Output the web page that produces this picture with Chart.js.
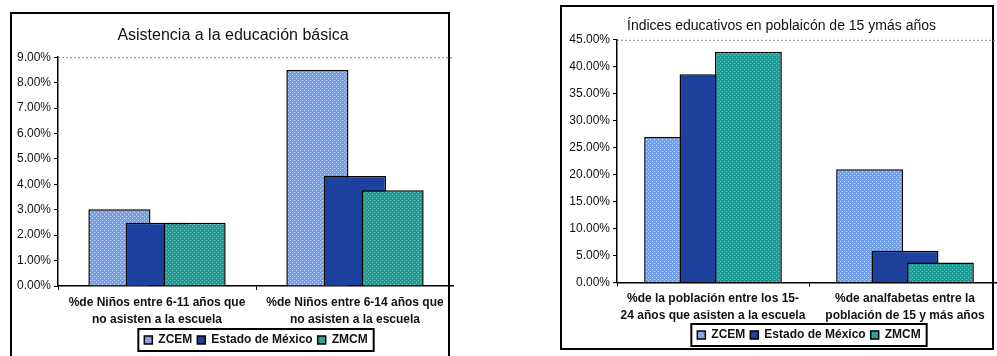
<!DOCTYPE html>
<html>
<head>
<meta charset="utf-8">
<script src="https://cdn.jsdelivr.net/npm/chart.js@4"></script>
<style>
html,body{margin:0;padding:0;background:#fff;overflow:hidden;width:997px;height:356px;}
.marco{position:absolute;box-sizing:border-box;border:2px solid #000;}
canvas{position:absolute;}
</style>
</head>
<body>
<div class="marco" style="left:10px;top:12px;width:440px;height:400px;"></div>
<div class="marco" style="left:560px;top:5px;width:434px;height:345px;"></div>
<canvas id="graficoBasica" style="left:12px;top:14px;width:442px;height:342px;" width="442" height="342"></canvas>
<canvas id="graficoIndices" style="left:562px;top:7px;width:439px;height:344px;" width="439" height="344"></canvas>
<script>

// series
const series = ["ZCEM", "Estado de México", "ZMCM"];

// Asistencia a la educación básica
const categoriasBasica = [
["%de Niños entre 6-11 años que", "no asisten a la escuela"],
["%de Niños entre 6-14 años que", "no asisten a la escuela"]
];
const zcemBasica = [3.02, 8.5];
const edomexBasica = [2.49, 4.33];
const zmcmBasica = [2.49, 3.77];

// Índices educativos en población de 15 y más años
const categoriasIndices = [
["%de la población entre los 15-", "24 años que asisten a la escuela"],
["%de analfabetas entre la", "población de 15 y más años"]
];
const zcemIndices = [27.0, 21.0];
const edomexIndices = [38.6, 5.9];
const zmcmIndices = [42.8, 3.7];


function punteado(base, punto){
const c = document.createElement("canvas");
c.width = 4; c.height = 4;
const x = c.getContext("2d");
x.fillStyle = base;
x.fillRect(0,0,4,4);
x.fillStyle = punto;
x.fillRect(0,0,1,1);
x.fillRect(2,2,1,1);
return x.createPattern(c, "repeat");
}

const rellenos = [
punteado("#74a0ea", "#c9dcfa"),
punteado("#1c3f9c", "#264cae"),
punteado("#1f9c96", "#70c8c0")
];

const fuente = "'Liberation Sans', Arial, sans-serif";

// como en Excel: la ultima serie se pinta encima
const ordenExcel = {
id: "ordenExcel",
beforeDatasetsDraw(chart){
chart.getSortedVisibleDatasetMetas().forEach(m => chart._drawDataset(m));
return false;
}
};

// linea punteada arriba del area y caja de la leyenda
const marcoExcel = {
id: "marcoExcel",
afterDraw(chart){
const ctx = chart.ctx;
const a = chart.chartArea;
ctx.save();
ctx.strokeStyle = "#888";
ctx.lineWidth = 1;
ctx.setLineDash([2,2]);
ctx.beginPath();
ctx.moveTo(a.left, a.top + 0.5);
ctx.lineTo(a.right, a.top + 0.5);
ctx.stroke();
ctx.setLineDash([]);
const hb = chart.legend.legendHitBoxes;
if(hb && hb.length){
let l = Infinity, r = -Infinity, t = Infinity, b = -Infinity;
hb.forEach(h => {
l = Math.min(l, h.left); r = Math.max(r, h.left + h.width);
t = Math.min(t, h.top); b = Math.max(b, h.top + h.height);
});
ctx.strokeStyle = "#000";
ctx.lineWidth = 2;
ctx.strokeRect(l - 6, t - 5, r - l + 12, b - t + 10);
}
ctx.restore();
}
};


function grafico(id, titulo, tituloFont, tituloPad, categorias, valores, maximo, paso, anchoEje, altoEje, catPct, barPct, padTicks){

new Chart(
document.getElementById(id),
{
type: "bar",
data: {
labels: categorias,
datasets: series.map((s, i) => ({
label: s,
data: valores[i],
backgroundColor: rellenos[i],
borderColor: "#000",
borderWidth: 1.5,
categoryPercentage: catPct,
barPercentage: barPct
}))
},
options: {
responsive: false,
animation: false,
layout: { padding: 0 },
plugins: {
title: {
display: true,
text: titulo,
color: "#111",
font: { family: fuente, size: tituloFont, weight: "normal" },
padding: tituloPad
},
legend: {
position: "bottom",
fullSize: false,
labels: {
boxWidth: 8,
boxHeight: 8,
padding: 5,
color: "#111",
font: { family: fuente, size: 12, weight: "bold" }
}
},
tooltip: { enabled: false }
},
scales: {
x: {
afterFit(scale){ scale.height = altoEje; },
grid: { display: true, drawOnChartArea: false, drawTicks: true, tickLength: 4, color: "#000", offset: true },
border: { display: true, color: "#000", width: 1.5 },
ticks: {
padding: padTicks,
maxRotation: 0,
autoSkip: false,
color: "#111",
font: { family: fuente, size: 12, weight: "bold", lineHeight: 1.42 }
}
},
y: {
min: 0,
max: maximo,
afterFit(scale){ scale.width = anchoEje; },
grid: { display: true, drawOnChartArea: false, drawTicks: true, tickLength: 4, color: "#000" },
border: { display: true, color: "#000", width: 1.5 },
ticks: {
stepSize: paso,
padding: 3,
color: "#111",
font: { family: fuente, size: 12 },
callback: v => v.toFixed(2) + "%"
}
}
}
},
plugins: [ordenExcel, marcoExcel]
}
);

}


grafico("graficoBasica", "Asistencia a la educación básica", 16, { top: 12, bottom: 12 },
categoriasBasica, [zcemBasica, edomexBasica, zmcmBasica], 9, 1, 46, 43, 0.57, 1.65, 4.5);

grafico("graficoIndices", "Índices educativos en poblaicón de 15 ymás años", 14, { top: 11, bottom: 5 },
categoriasIndices, [zcemIndices, edomexIndices, zmcmIndices], 45, 5, 55, 41.5, 0.553, 1.89, 3.5);

</script>
</body>
</html>
